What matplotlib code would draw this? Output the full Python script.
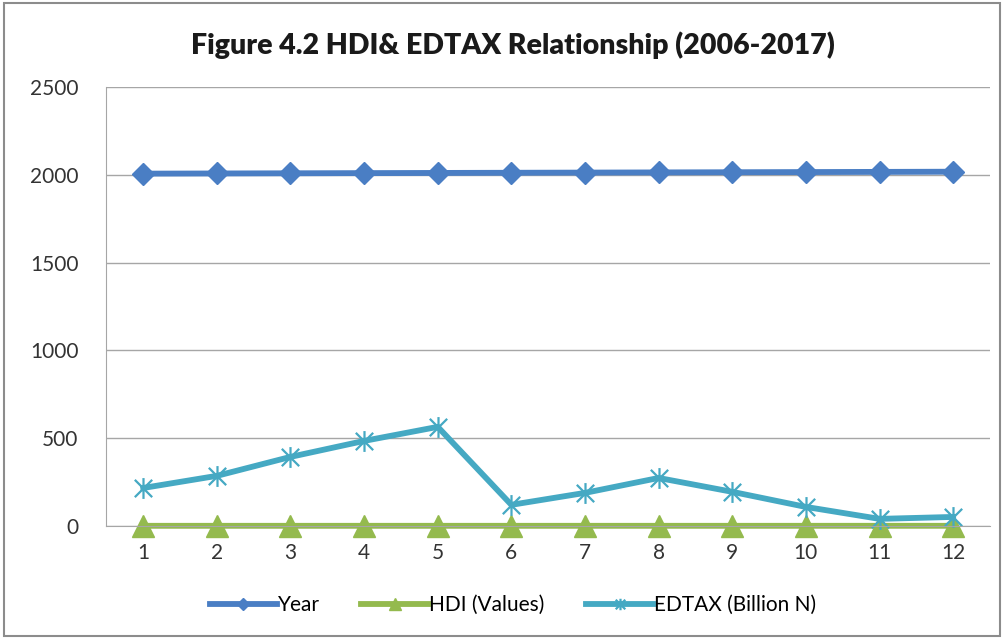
import matplotlib.pyplot as plt
from matplotlib.patches import Rectangle
from matplotlib.path import Path

# data
periods = list(range(1, 13))
year = [2006, 2007, 2008, 2009, 2010, 2011, 2012, 2013, 2014, 2015, 2016, 2017]
hdi = [0.47, 0.48, 0.49, 0.49, 0.50, 0.50, 0.51, 0.51, 0.52, 0.52, 0.53, 0.53]
edtax = [216, 285, 393, 484, 564, 120, 188, 273, 194, 108, 40, 51]

plt.rcParams['font.family'] = ['Lato', 'DejaVu Sans']

# excel style star marker: an X with a vertical bar
star = Path([(-1, -1), (1, 1), (-1, 1), (1, -1), (0, -1.2), (0, 1.2)],
            [Path.MOVETO, Path.LINETO, Path.MOVETO, Path.LINETO, Path.MOVETO, Path.LINETO])

fig = plt.figure(figsize=(10.04, 6.39), dpi=100)
ax = fig.add_axes([0.106, 0.177, 0.88, 0.687])

ax.plot(periods, year, color='#4A7EC4', lw=4.2, marker='D', ms=11, label='Year', clip_on=False)
ax.plot(periods, hdi, color='#94BA4E', lw=4.2, marker='^', ms=16, label='HDI (Values)', clip_on=False)
ax.plot(periods, edtax, color='#45A9C3', lw=4.2, marker=star, ms=15, mew=1.6,
        label='EDTAX (Billion N)', clip_on=False)

ax.set_xlim(0.5, 12.5)
ax.set_ylim(0, 2500)
ax.set_yticks(range(0, 2501, 500))
ax.set_xticks(periods)
ax.grid(axis='y', color='#a6a6a6', lw=1)
ax.set_axisbelow(True)
for s in ['top', 'right']:
    ax.spines[s].set_visible(False)
ax.spines['left'].set_color('#a6a6a6')
ax.spines['bottom'].set_color('#a6a6a6')
ax.tick_params(axis='y', length=0, pad=20, labelsize=15, colors='#333333')
ax.tick_params(axis='x', length=0, pad=12, labelsize=15, colors='#333333')

fig.text(0.511, 0.93, 'Figure 4.2 HDI& EDTAX Relationship (2006-2017)',
         ha='center', va='center', fontsize=20.5, fontweight='heavy', color='#1a1a1a')

fig.legend(loc='center', bbox_to_anchor=(0.511, 0.053), ncol=3, frameon=False,
           fontsize=15, handlelength=3.2, handletextpad=0.05, columnspacing=2.0,
           markerscale=0.55)

fig.patches.append(Rectangle((0.004, 0.004), 0.992, 0.992, transform=fig.transFigure,
                             fill=False, edgecolor='#8c8c8c', lw=1.5))

fig.savefig('out.png', dpi=100)
